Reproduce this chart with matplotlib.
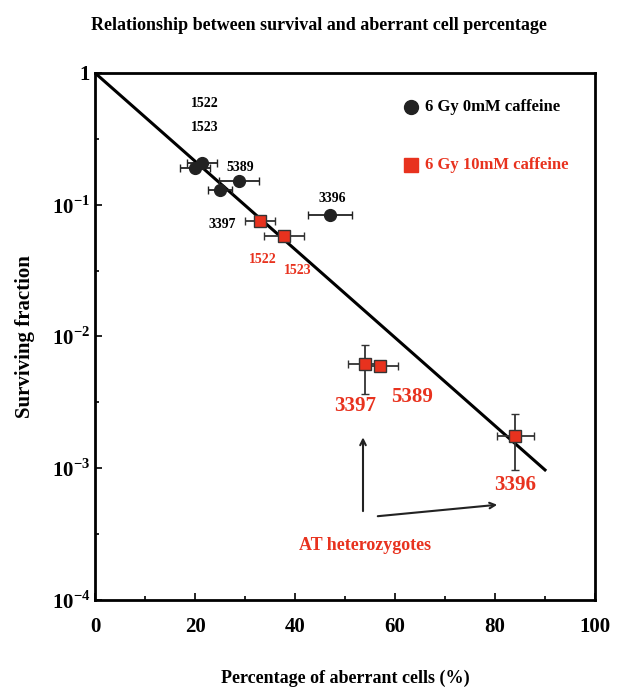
import numpy as np
import matplotlib
matplotlib.use('Agg')
import matplotlib.pyplot as plt
from matplotlib.ticker import FixedLocator

plt.rcParams['font.family'] = 'Liberation Serif'
plt.rcParams['font.weight'] = 'bold'
plt.rcParams['mathtext.fontset'] = 'custom'
plt.rcParams['mathtext.rm'] = 'Liberation Serif:bold'
plt.rcParams['mathtext.bf'] = 'Liberation Serif:bold'

# 6 Gy 0 mM caffeine (black circles)
x_ctrl = [20.0, 21.3, 25.0, 28.7, 47.0]
y_ctrl = [0.19, 0.206, 0.129, 0.15, 0.0836]
xerr_ctrl = [3.0, 3.0, 2.4, 4.0, 4.4]

# 6 Gy 10 mM caffeine (red squares)
x_caf = [33.0, 37.7, 54.0, 57.0, 84.0]
y_caf = [0.0757, 0.058, 0.0062, 0.0060, 0.00176]
xerr_caf = [3.0, 4.0, 3.5, 3.5, 3.7]
ylo_caf = [0.0757, 0.058, 0.00366, 0.0060, 0.00097]
yhi_caf = [0.0757, 0.058, 0.0086, 0.0060, 0.0026]

# fitted line
x_fit = [0, 90]
y_fit = [1.0, 0.00097]

red = '#e8321e'

fig = plt.figure(figsize=(6.25, 6.88), dpi=100)
ax = fig.add_axes([0.152, 0.128, 0.8, 0.766])

ax.plot(x_fit, y_fit, color='black', lw=2.2, zorder=2)

ax.errorbar(x_ctrl, y_ctrl, xerr=xerr_ctrl, fmt='o', color='#222222',
            ms=8.5, capsize=3, elinewidth=1.3, zorder=3)
yerr = [np.array(y_caf) - np.array(ylo_caf), np.array(yhi_caf) - np.array(y_caf)]
ax.errorbar(x_caf, y_caf, xerr=xerr_caf, yerr=yerr, fmt='s', mfc=red, mec='#333333',
            ecolor='#333333', ms=9, capsize=3, elinewidth=1.3, zorder=3)

ax.set_yscale('log')
ax.set_xlim(0, 100)
ax.set_ylim(1e-4, 1)
ax.set_xticks([0, 20, 40, 60, 80, 100])
ax.xaxis.set_minor_locator(FixedLocator([10, 30, 50, 70, 90]))
ax.set_yticks([1e-4, 1e-3, 1e-2, 1e-1, 1])
ax.set_yticklabels([r'$10^{-4}$', r'$10^{-3}$', r'$10^{-2}$', r'$10^{-1}$', '1'])
ax.yaxis.set_minor_locator(FixedLocator([10 ** -3.5, 10 ** -2.5, 10 ** -1.5, 10 ** -0.5]))
ax.tick_params(which='both', direction='in', width=1.2)
ax.tick_params(which='major', length=5, labelsize=15)
ax.tick_params(axis='x', which='major', pad=12)
ax.tick_params(which='minor', length=3)
for s in ax.spines.values():
    s.set_linewidth(2)

ax.set_xlabel('Percentage of aberrant cells (%)', fontsize=13, fontweight='bold', labelpad=24)
ax.set_ylabel('Surviving fraction', fontsize=15, fontweight='bold', labelpad=12)
fig.suptitle('Relationship between survival and aberrant cell percentage',
             fontsize=13, fontweight='bold', x=0.51, y=0.975)

# point labels
ax.text(22, 0.55, '1522', fontsize=10, ha='center')
ax.text(22, 0.36, '1523', fontsize=10, ha='center')
ax.text(29, 0.18, '5389', fontsize=10, ha='center')
ax.text(25.5, 0.067, '3397', fontsize=10, ha='center')
ax.text(47.5, 0.105, '3396', fontsize=10, ha='center')
ax.text(33.5, 0.036, '1522', fontsize=10, ha='center', color=red)
ax.text(40.5, 0.030, '1523', fontsize=10, ha='center', color=red)
ax.text(52, 0.0027, '3397', fontsize=15, ha='center', color=red)
ax.text(63.5, 0.0032, '5389', fontsize=15, ha='center', color=red)
ax.text(84, 0.00068, '3396', fontsize=15, ha='center', color=red)
ax.text(54, 0.00024, 'AT heterozygotes', fontsize=13, ha='center', color=red)

ax.annotate('', xy=(53.6, 0.0018), xytext=(53.6, 0.00045),
            arrowprops=dict(arrowstyle='->', color='#222222', lw=1.5))
ax.annotate('', xy=(81, 0.00053), xytext=(56, 0.00043),
            arrowprops=dict(arrowstyle='->', color='#222222', lw=1.5))

# legend
ax.plot([63.2], [0.55], 'o', color='#222222', ms=10)
ax.text(66, 0.55, '6 Gy 0mM caffeine', fontsize=12, va='center')
ax.plot([63.2], [0.20], 's', color=red, ms=10)
ax.text(66, 0.20, '6 Gy 10mM caffeine', fontsize=12, va='center', color=red)

fig.savefig('out.png', dpi=100, facecolor='white')
